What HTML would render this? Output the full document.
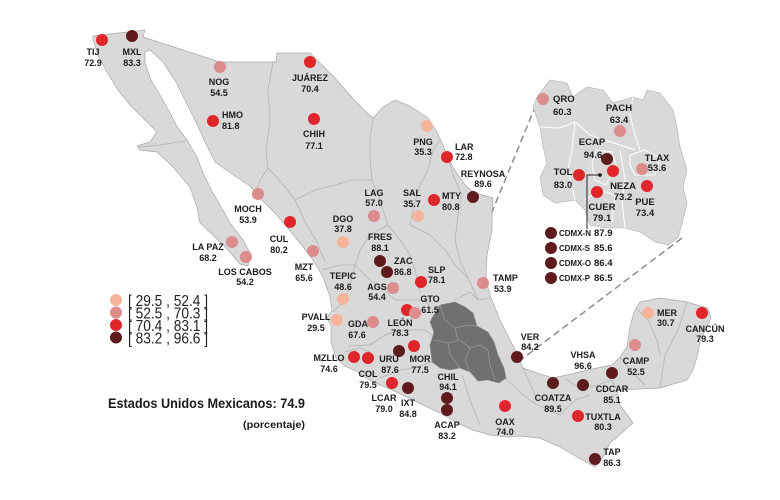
<!DOCTYPE html>
<html>
<head>
<meta charset="utf-8">
<style>
html,body{margin:0;padding:0;background:#fff;}
svg{display:block;}
text{font-family:"Liberation Sans",Arial,sans-serif;}
.l{font-size:9px;font-weight:bold;fill:#1c1c1c;text-anchor:middle;}
.ls{font-size:9px;font-weight:bold;fill:#1c1c1c;text-anchor:start;}
.i{font-size:9.5px;font-weight:bold;fill:#1c1c1c;text-anchor:middle;}
.is{font-size:9.5px;font-weight:bold;fill:#1c1c1c;text-anchor:start;}
.b{fill:none;stroke:#b4b4b4;stroke-width:0.8;}
.w{fill:none;stroke:#ffffff;stroke-width:1;}
.db{fill:none;stroke:#9a9a9a;stroke-width:0.8;}
</style>
</head>
<body>
<svg width="780" height="500" viewBox="0 0 780 500" xmlns="http://www.w3.org/2000/svg">
<rect width="780" height="500" fill="#fff"/>

<!-- Dashed connector lines -->
<line x1="540" y1="95" x2="455" y2="302" stroke="#8c8c8c" stroke-width="1.5" stroke-dasharray="7,4"/>
<line x1="682" y1="238" x2="518" y2="362" stroke="#8c8c8c" stroke-width="1.5" stroke-dasharray="7,4"/>

<!-- Main map -->
<path fill="#d9d9d9" stroke="#a8a8a8" stroke-width="0.7" d="M93,36 L145,30 L143,37 L220,62 L276,62 L277,53 L310,53 L322,65 L335,78 L348,93 L362,108 L373,118 L383,107 L395,100 L410,106 L428,118 L437,132 L443,145 L448,158 L456,172 L465,185 L475,193 L493,198 L492,212 L492,230 L487,255 L486,275 L488,288 L491,298 L500,320 L510,340 L517,353 L523,368 L540,374 L553,378 L575,373 L597,368 L612,365 L620,357 L627,347 L630,327 L634,312 L640,302 L660,298 L687,302 L700,306 L708,308 L711,318 L706,328 L700,342 L697,357 L693,370 L687,380 L660,388 L617,390 L620,405 L633,423 L623,432 L610,443 L603,457 L595,467 L577,457 L560,447 L540,438 L520,436 L507,437 L490,435 L473,430 L457,423 L440,413 L423,405 L405,396 L390,389 L378,384 L366,378 L356,371 L345,366 L336,358 L331,342 L331,325 L327,318 L332,310 L330,297 L323,277 L313,260 L300,243 L287,227 L274,212 L262,200 L250,186 L232,174 L215,162 L205,142 L196,122 L186,102 L176,82 L163,62 L150,50 L145,52 L145,62 L150,78 L160,95 L170,113 L178,128 L187,140 L197,157 L203,173 L213,193 L223,210 L230,223 L243,240 L250,253 L248,266 L240,264 L228,250 L215,237 L200,223 L197,207 L190,187 L173,167 L157,152 L140,150 L137,146 L150,142 L157,132 L145,120 L130,105 L118,90 L107,72 L98,55 L93,40 Z"/>

<!-- state borders -->
<polyline class="b" points="140,147 160,145 185,141"/>
<polyline class="b" points="273,62 268,90 270,120 266,150 268,168"/>
<polyline class="b" points="268,168 260,180 256,192"/>
<polyline class="b" points="268,168 282,183 295,200"/>
<polyline class="b" points="295,200 315,190 335,185 352,180 372,180"/>
<polyline class="b" points="373,118 370,140 370,160 372,180"/>
<polyline class="b" points="372,180 378,195 383,210 388,225"/>
<polyline class="b" points="440,140 433,150 428,170 420,185 414,205 410,225"/>
<polyline class="b" points="448,158 455,180 462,195 458,215 455,240 460,260 468,278 478,300 490,298"/>
<polyline class="b" points="295,200 305,222 316,240 325,262"/>
<polyline class="b" points="388,225 370,235 360,250 355,265"/>
<polyline class="b" points="322,270 340,265 355,265 350,285 345,300 333,312"/>
<polyline class="b" points="355,265 370,280 385,290 395,300 405,300"/>
<polyline class="b" points="388,225 400,240 410,255 415,270 420,292"/>
<polyline class="b" points="410,225 430,235 445,250 455,265 468,278"/>
<polyline class="b" points="395,300 410,300 425,300 433,310"/>
<polyline class="b" points="348,346 370,345 385,335 400,330 425,330 432,335"/>
<polyline class="b" points="345,352 360,348 370,352"/>
<polyline class="b" points="380,378 400,370 415,368 432,362"/>
<polyline class="b" points="462,375 470,400 480,425"/>
<polyline class="b" points="505,378 520,392 532,402 548,410 560,415 575,400 590,395"/>
<polyline class="b" points="523,368 535,395"/>
<polyline class="b" points="565,378 575,386 595,386 612,380 617,390"/>
<polyline class="b" points="636,308 648,320 657,340 660,355"/>
<polyline class="b" points="687,302 678,330 665,355 660,388"/>
<polyline class="b" points="620,357 630,370 645,385"/>
<polyline class="b" points="478,300 470,292 455,300"/>

<!-- dark central region -->
<path fill="#707070" stroke="#8a8a8a" stroke-width="0.6" d="M432,318 L440,305 L455,302 L465,307 L473,313 L477,326 L488,332 L494,342 L498,355 L504,368 L506,378 L499,383 L488,380 L478,381 L470,372 L460,368 L450,370 L440,368 L432,362 L430,345 L434,332 L430,322 Z"/>
<polyline class="db" points="440,305 445,320 455,328 468,325 477,326"/>
<polyline class="db" points="434,340 448,343 460,340 470,348 465,360 470,372"/>
<polyline class="db" points="455,328 458,340"/>
<polyline class="db" points="470,348 480,345 488,350 490,365 495,380"/>
<polyline class="db" points="448,343 450,355 460,368"/>

<!-- Inset -->
<path fill="#d9d9d9" stroke="#b0b0b0" stroke-width="0.6" d="M537,97 L550,80 L567,83 L573,97 L587,87 L603,90 L613,103 L633,97 L643,100 L647,90 L660,93 L673,110 L677,127 L680,147 L687,170 L683,187 L687,203 L683,220 L678,238 L668,245 L655,242 L640,232 L625,228 L605,228 L590,225 L585,210 L575,200 L555,203 L543,195 L540,177 L547,163 L543,147 L540,127 L533,107 Z"/>
<polyline class="w" points="540,127 560,128 575,122"/>
<polyline class="w" points="575,122 590,135 605,140 620,145 635,150"/>
<polyline class="w" points="633,97 630,115 635,135 640,150"/>
<polyline class="w" points="630,155 645,150 660,158 655,175 635,175 630,165 630,155"/>
<polyline class="w" points="596,150 612,152 616,165 606,185 595,180 592,165 596,150"/>
<polyline class="w" points="585,200 600,190 615,195 612,222"/>
<polyline class="w" points="620,150 625,180 622,200 625,228"/>
<polyline class="w" points="575,122 572,150 568,170 575,200"/>

<!-- connector in inset -->
<polyline points="600,175 587,175 587,229" fill="none" stroke="#222" stroke-width="1"/>
<circle cx="600" cy="175" r="1.8" fill="#111"/>

<!-- Dots main -->
<g>
<circle cx="102" cy="40" r="6" fill="#e0262a"/>
<circle cx="132" cy="36" r="6" fill="#5e1a1c"/>
<circle cx="220" cy="67" r="6" fill="#dc8c8c"/>
<circle cx="213" cy="121" r="6" fill="#e0262a"/>
<circle cx="310" cy="62" r="6" fill="#e0262a"/>
<circle cx="314" cy="119" r="6" fill="#e0262a"/>
<circle cx="427" cy="126" r="6" fill="#f6b49c"/>
<circle cx="447" cy="157" r="6" fill="#e0262a"/>
<circle cx="473" cy="197" r="6" fill="#5e1a1c"/>
<circle cx="374" cy="216" r="6" fill="#dc8c8c"/>
<circle cx="418" cy="216" r="6" fill="#f6b49c"/>
<circle cx="434" cy="200" r="6" fill="#e0262a"/>
<circle cx="343" cy="242" r="6" fill="#f6b49c"/>
<circle cx="380" cy="261" r="6" fill="#5e1a1c"/>
<circle cx="387" cy="272" r="6" fill="#5e1a1c"/>
<circle cx="421" cy="282" r="6" fill="#e0262a"/>
<circle cx="483" cy="283" r="6" fill="#dc8c8c"/>
<circle cx="258" cy="194" r="6" fill="#dc8c8c"/>
<circle cx="290" cy="222" r="6" fill="#e0262a"/>
<circle cx="313" cy="251" r="6" fill="#dc8c8c"/>
<circle cx="232" cy="242" r="6" fill="#dc8c8c"/>
<circle cx="246" cy="257" r="6" fill="#dc8c8c"/>
<circle cx="343" cy="299" r="6" fill="#f6b49c"/>
<circle cx="337" cy="320" r="6" fill="#f6b49c"/>
<circle cx="373" cy="322" r="6" fill="#dc8c8c"/>
<circle cx="393" cy="288" r="6" fill="#dc8c8c"/>
<circle cx="407" cy="310" r="6" fill="#e0262a"/>
<circle cx="415" cy="313" r="6" fill="#dc8c8c"/>
<circle cx="414" cy="346" r="6" fill="#e0262a"/>
<circle cx="399" cy="351" r="6" fill="#5e1a1c"/>
<circle cx="354" cy="357" r="6" fill="#e0262a"/>
<circle cx="368" cy="358" r="6" fill="#e0262a"/>
<circle cx="392" cy="383" r="6" fill="#e0262a"/>
<circle cx="408" cy="388" r="6" fill="#5e1a1c"/>
<circle cx="447" cy="398" r="6" fill="#5e1a1c"/>
<circle cx="447" cy="410" r="6" fill="#5e1a1c"/>
<circle cx="505" cy="406" r="6" fill="#e0262a"/>
<circle cx="517" cy="357" r="6" fill="#5e1a1c"/>
<circle cx="553" cy="383" r="6" fill="#5e1a1c"/>
<circle cx="583" cy="385" r="6" fill="#5e1a1c"/>
<circle cx="612" cy="373" r="6" fill="#5e1a1c"/>
<circle cx="635" cy="345" r="6" fill="#dc8c8c"/>
<circle cx="648" cy="313" r="6" fill="#f6b49c"/>
<circle cx="702" cy="313" r="6" fill="#e0262a"/>
<circle cx="578" cy="416" r="6" fill="#e0262a"/>
<circle cx="595" cy="459" r="6" fill="#5e1a1c"/>
</g>

<!-- Dots inset -->
<g>
<circle cx="543" cy="99" r="6" fill="#dc8c8c"/>
<circle cx="620" cy="131" r="6" fill="#dc8c8c"/>
<circle cx="607" cy="159" r="6" fill="#5e1a1c"/>
<circle cx="613" cy="171" r="6" fill="#e0262a"/>
<circle cx="579" cy="175" r="6" fill="#e0262a"/>
<circle cx="597" cy="192" r="6" fill="#e0262a"/>
<circle cx="642" cy="169" r="6" fill="#dc8c8c"/>
<circle cx="647" cy="186" r="6" fill="#e0262a"/>
<circle cx="551" cy="233" r="6" fill="#5e1a1c"/>
<circle cx="551" cy="248" r="6" fill="#5e1a1c"/>
<circle cx="551" cy="263" r="6" fill="#5e1a1c"/>
<circle cx="551" cy="278" r="6" fill="#5e1a1c"/>
</g>

<!-- Labels main -->
<text class="l" x="93" y="55">TIJ</text><text class="l" x="93" y="66">72.9</text>
<text class="l" x="132" y="55">MXL</text><text class="l" x="132" y="66">83.3</text>
<text class="l" x="219" y="85">NOG</text><text class="l" x="219" y="96">54.5</text>
<text class="ls" x="222" y="118">HMO</text><text class="ls" x="222" y="129">81.8</text>
<text class="l" x="310" y="81">JUÁREZ</text><text class="l" x="310" y="92">70.4</text>
<text class="l" x="314" y="137">CHIH</text><text class="l" x="314" y="149">77.1</text>
<text class="l" x="423" y="145">PNG</text><text class="l" x="423" y="155">35.3</text>
<text class="ls" x="455" y="150">LAR</text><text class="ls" x="455" y="160">72.8</text>
<text class="l" x="483" y="177">REYNOSA</text><text class="l" x="483" y="187">89.6</text>
<text class="l" x="374" y="196">LAG</text><text class="l" x="374" y="206">57.0</text>
<text class="l" x="412" y="196">SAL</text><text class="l" x="412" y="207">35.7</text>
<text class="ls" x="442" y="199">MTY</text><text class="ls" x="442" y="210">80.8</text>
<text class="l" x="343" y="222">DGO</text><text class="l" x="343" y="232">37.8</text>
<text class="l" x="380" y="240">FRES</text><text class="l" x="380" y="251">88.1</text>
<text class="ls" x="394" y="264">ZAC</text><text class="ls" x="394" y="275">86.8</text>
<text class="ls" x="428" y="273">SLP</text><text class="ls" x="428" y="283">78.1</text>
<text class="ls" x="493" y="281">TAMP</text><text class="ls" x="494" y="292">53.9</text>
<text class="l" x="248" y="212">MOCH</text><text class="l" x="248" y="223">53.9</text>
<text class="l" x="279" y="242">CUL</text><text class="l" x="279" y="253">80.2</text>
<text class="l" x="304" y="270">MZT</text><text class="l" x="304" y="281">65.6</text>
<text class="l" x="208" y="250">LA PAZ</text><text class="l" x="208" y="261">68.2</text>
<text class="l" x="245" y="275">LOS CABOS</text><text class="l" x="245" y="285">54.2</text>
<text class="l" x="343" y="279">TEPIC</text><text class="l" x="343" y="290">48.6</text>
<text class="l" x="316" y="320">PVALL</text><text class="l" x="316" y="331">29.5</text>
<text class="l" x="358" y="327">GDA</text><text class="l" x="357" y="338">67.6</text>
<text class="l" x="377" y="290">AGS</text><text class="l" x="377" y="300">54.4</text>
<text class="l" x="430" y="302">GTO</text><text class="l" x="430" y="313">61.5</text>
<text class="l" x="400" y="326">LEÓN</text><text class="l" x="400" y="336">78.3</text>
<text class="l" x="420" y="362">MOR</text><text class="l" x="420" y="373">77.5</text>
<text class="l" x="389" y="362">URU</text><text class="l" x="390" y="373">87.6</text>
<text class="l" x="329" y="361">MZLLO</text><text class="l" x="329" y="372">74.6</text>
<text class="l" x="368" y="377">COL</text><text class="l" x="368" y="388">79.5</text>
<text class="l" x="384" y="401">LCAR</text><text class="l" x="384" y="412">79.0</text>
<text class="l" x="408" y="406">IXT</text><text class="l" x="408" y="417">84.8</text>
<text class="l" x="448" y="380">CHIL</text><text class="l" x="448" y="390">94.1</text>
<text class="l" x="447" y="428">ACAP</text><text class="l" x="447" y="439">83.2</text>
<text class="l" x="505" y="425">OAX</text><text class="l" x="505" y="435">74.0</text>
<text class="l" x="530" y="340">VER</text><text class="l" x="530" y="350">84.2</text>
<text class="l" x="553" y="401">COATZA</text><text class="l" x="553" y="412">89.5</text>
<text class="l" x="583" y="358">VHSA</text><text class="l" x="583" y="369">96.6</text>
<text class="l" x="612" y="392">CDCAR</text><text class="l" x="612" y="403">85.1</text>
<text class="l" x="636" y="364">CAMP</text><text class="l" x="636" y="375">52.5</text>
<text class="ls" x="657" y="316">MER</text><text class="ls" x="657" y="326">30.7</text>
<text class="l" x="705" y="332">CANCÚN</text><text class="l" x="705" y="342">79.3</text>
<text class="l" x="603" y="420">TUXTLA</text><text class="l" x="603" y="430">80.3</text>
<text class="l" x="612" y="455">TAP</text><text class="l" x="612" y="466">86.3</text>

<!-- Labels inset -->
<text class="is" x="553" y="102">QRO</text><text class="is" x="553" y="115">60.3</text>
<text class="i" x="619" y="111">PACH</text><text class="i" x="619" y="123">63.4</text>
<text class="i" x="592" y="145">ECAP</text><text class="i" x="593" y="158">94.6</text>
<text class="i" x="623" y="189">NEZA</text><text class="i" x="623" y="200">73.2</text>
<text class="i" x="563" y="175">TOL</text><text class="i" x="563" y="188">83.0</text>
<text class="i" x="602" y="210">CUER</text><text class="i" x="602" y="221">79.1</text>
<text class="i" x="657" y="161">TLAX</text><text class="i" x="657" y="171">53.6</text>
<text class="i" x="645" y="205">PUE</text><text class="i" x="645" y="216">73.4</text>

<text class="is" x="559" y="236" style="font-size:8.5px" textLength="32" lengthAdjust="spacingAndGlyphs">CDMX-N</text><text class="is" x="594" y="236">87.9</text>
<text class="is" x="559" y="251" style="font-size:8.5px" textLength="31" lengthAdjust="spacingAndGlyphs">CDMX-S</text><text class="is" x="594" y="251">85.6</text>
<text class="is" x="559" y="266" style="font-size:8.5px" textLength="32" lengthAdjust="spacingAndGlyphs">CDMX-O</text><text class="is" x="594" y="266">86.4</text>
<text class="is" x="559" y="281" style="font-size:8.5px" textLength="31" lengthAdjust="spacingAndGlyphs">CDMX-P</text><text class="is" x="594" y="281">86.5</text>

<!-- Legend -->
<circle cx="116" cy="300" r="6" fill="#f6b49c"/>
<circle cx="116" cy="312.5" r="6" fill="#dc8c8c"/>
<circle cx="116" cy="325" r="6" fill="#e0262a"/>
<circle cx="116" cy="337.5" r="6" fill="#5e1a1c"/>
<text x="128" y="306" font-size="15.5" fill="#222" textLength="80" lengthAdjust="spacingAndGlyphs">[ 29.5 , 52.4 ]</text>
<text x="128" y="318.5" font-size="15.5" fill="#222" textLength="80" lengthAdjust="spacingAndGlyphs">[ 52.5 , 70.3 ]</text>
<text x="128" y="331" font-size="15.5" fill="#222" textLength="80" lengthAdjust="spacingAndGlyphs">[ 70.4 , 83.1 ]</text>
<text x="128" y="343.5" font-size="15.5" fill="#222" textLength="80" lengthAdjust="spacingAndGlyphs">[ 83.2 , 96.6 ]</text>

<text x="108" y="408" font-size="13.5" font-weight="bold" fill="#1a1a1a" textLength="197" lengthAdjust="spacingAndGlyphs">Estados Unidos Mexicanos: 74.9</text>
<text x="243" y="428" font-size="10" font-weight="bold" fill="#1a1a1a" textLength="62" lengthAdjust="spacingAndGlyphs">(porcentaje)</text>
</svg>
</body>
</html>
